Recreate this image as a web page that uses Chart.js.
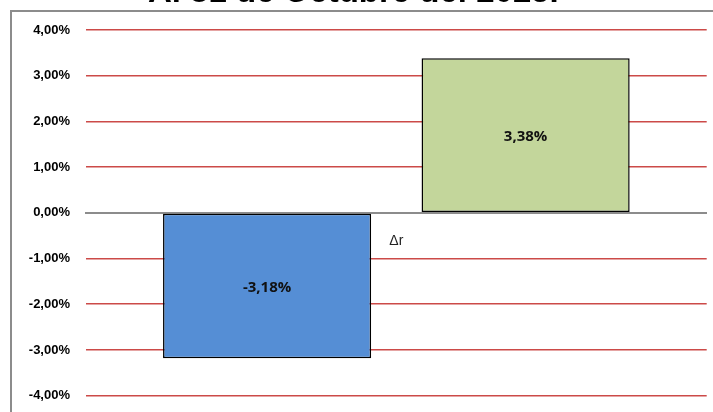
<!DOCTYPE html>
<html>
<head>
<meta charset="utf-8">
<script src="https://cdn.jsdelivr.net/npm/chart.js@4.4.1/dist/chart.umd.min.js"></script>
<style>
  html, body { margin: 0; padding: 0; background: #fff; overflow: hidden; }
  body { width: 713px; height: 412px; position: relative; }
  #frame { position: absolute; left: 10px; top: 10px; width: 760px; height: 460px; border: 2px solid #8c8c8c; box-sizing: border-box; }
  #wrap { position: absolute; left: 0; top: -27px; width: 713px; height: 439px; }
</style>
</head>
<body>
<div id="frame"></div>
<div id="wrap"><canvas id="c" width="713" height="439"></canvas></div>
<script>
const titleText = 'Al 31 de Octubre del 2025.';
const categories = ['Δr'];
const seriesNames = ['Serie 1', 'Serie 2'];
const seriesA = [-3.18];
const seriesB = [3.38];
const yMin = -4, yMax = 4, yStep = 1;

const fmt = v => v.toFixed(2).replace('.', ',') + '%';

const valueLabels = {
  id: 'valueLabels',
  afterDatasetsDraw(chart) {
    const ctx = chart.ctx;
    ctx.save();
    ctx.font = 'bold 15px "Open Sans", "Liberation Sans", sans-serif';
    ctx.fillStyle = '#111';
    ctx.textAlign = 'center';
    ctx.textBaseline = 'middle';
    chart.data.datasets.forEach((ds, i) => {
      chart.getDatasetMeta(i).data.forEach((bar, j) => {
        const v = ds.data[j];
        ctx.fillText(fmt(v), bar.x, (bar.y + bar.base) / 2 + 1.5);
      });
    });
    ctx.restore();
  }
};

new Chart(document.getElementById('c'), {
  type: 'bar',
  data: {
    labels: categories,
    datasets: [
      { label: seriesNames[0], data: seriesA, backgroundColor: '#558ED5', borderColor: '#000', borderWidth: 1.5, borderSkipped: false },
      { label: seriesNames[1], data: seriesB, backgroundColor: '#C3D69B', borderColor: '#000', borderWidth: 1.5, borderSkipped: false }
    ]
  },
  options: {
    responsive: false,
    animation: false,
    devicePixelRatio: 1,
    layout: { padding: { left: 0, right: 6.3, top: 0, bottom: 16.3 } },
    datasets: { bar: { categoryPercentage: 0.833, barPercentage: 0.805 } },
    plugins: {
      legend: { display: false },
      tooltip: { enabled: false },
      title: {
        display: true,
        text: titleText,
        color: '#000',
        font: { family: '"Liberation Sans", Arial, sans-serif', size: 33, weight: 'bold' },
        padding: { top: 0, bottom: 17.4 }
      }
    },
    scales: {
      x: {
        position: { y: 0 },
        grid: { display: false, drawTicks: false },
        border: { display: true, color: '#8c8c8c', width: 2 },
        ticks: { color: '#222', padding: 20, font: { family: '"Liberation Sans", Arial, sans-serif', size: 14 } }
      },
      y: {
        min: yMin, max: yMax,
        afterFit(scale) { scale.width = 86; scale.paddingTop = 0; scale.paddingBottom = 0; },
        ticks: {
          stepSize: yStep,
          padding: 16,
          color: '#000',
          font: { family: '"Liberation Sans", Arial, sans-serif', size: 13, weight: 'bold' },
          callback: v => fmt(v)
        },
        grid: {
          drawTicks: false,
          lineWidth: 1.6,
          color: c => (c.tick && c.tick.value === 0) ? 'rgba(0,0,0,0)' : '#cc4a48'
        },
        border: { display: false }
      }
    }
  },
  plugins: [valueLabels]
});
</script>
</body>
</html>
